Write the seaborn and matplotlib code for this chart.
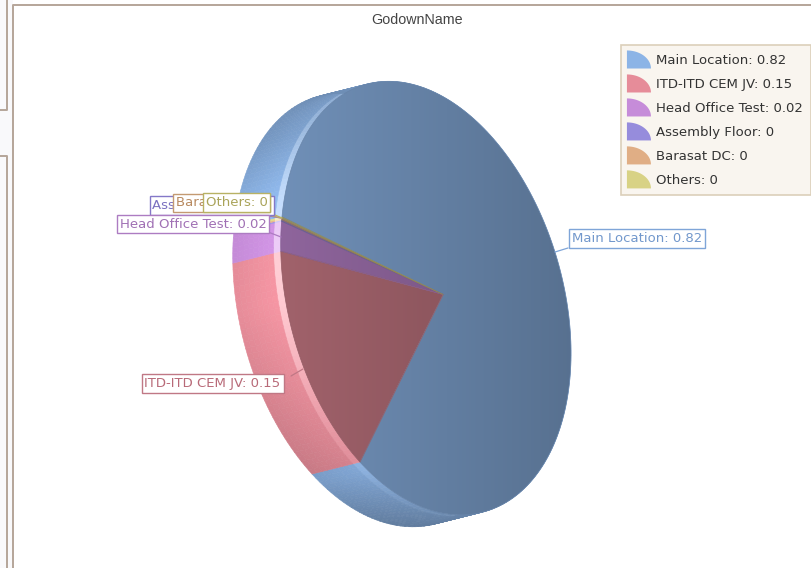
import numpy as np
import seaborn as sns
from matplotlib import pyplot as plt
from matplotlib.collections import PolyCollection
from matplotlib.legend_handler import HandlerPatch
from matplotlib.lines import Line2D
from matplotlib.patches import Patch, Polygon, Rectangle

# data (the three "0" slices are thin slivers)
categories = ["Main Location", "ITD-ITD CEM JV", "Head Office Test",
              "Assembly Floor", "Barasat DC", "Others"]
values = [0.82, 0.156, 0.021, 0.001, 0.001, 0.001]
value_labels = ["0.82", "0.15", "0.02", "0", "0", "0"]
title = "GodownName"
colors = sns.color_palette(["#8cb4e6", "#e68c99", "#c68cd9",
                            "#968cdc", "#e0ae85", "#d8d285"])
text_colors = ["#7298cc", "#b86a78", "#a070b4", "#7a70c0", "#b88a60", "#aaa45a"]
line_colors = ["#7fa5d8", "#c07885", "#ad7cc2", "#8478c8", "#c49a72", "#b8b264"]
face_dark = [0.80, 0.70, 0.72, 0.72, 0.72, 0.72]

sns.set_theme(style="white")
plt.rcParams["font.family"] = ["DejaVu Sans"]

fig = plt.figure(figsize=(8.11, 5.68), dpi=100, facecolor="white")
ax = fig.add_axes([0, 0, 1, 1])

# the pie gives the slice angles, then it is redrawn tilted
start = 170.0
wedges, _ = ax.pie(values, startangle=start, counterclock=False, radius=1)
thetas = [(w.theta1, w.theta2) for w in wedges]
for w in wedges:
    w.remove()
ax.set_aspect("auto")
ax.set_axis_off()


def circle(deg):
    return np.cos(np.radians(deg)), np.sin(np.radians(deg))


# perspective of the disc: two diameters of the circle and where they land
main_end = start - 360 * values[0]
src = [circle(start), circle(start + 180), circle(main_end), circle(main_end + 180)]
dst = [(282, 217), (571, 356), (360, 462), (510, 160)]
A, b = [], []
for (u, v), (x, y) in zip(src, dst):
    A.append([u, v, 1, 0, 0, 0, -u * x, -v * x])
    A.append([0, 0, 0, u, v, 1, -u * y, -v * y])
    b += [x, y]
H = np.append(np.linalg.solve(np.array(A), np.array(b)), 1).reshape(3, 3)
bulge_dir = main_end + 180 + (start - main_end - 180) / 2


def rim(deg):
    # the outline in the picture is a bit egg shaped, not a true ellipse
    deg = np.asarray(deg, dtype=float)
    k = 0.0215 + 0.0055 * np.cos(np.radians(deg - bulge_dir))
    r = 1 + k * (np.cos(2 * np.radians(deg - bulge_dir)) + 0.43)
    pts = H @ np.vstack([r * np.cos(np.radians(deg)), r * np.sin(np.radians(deg)), np.ones(deg.size)])
    return (pts[:2] / pts[2]).T


center = H[:2, 2] / H[2, 2]
depth = np.array([-48.0, 12.0])
bevel = 0.15
bands = np.r_[0, bevel, np.linspace(bevel, 1, 9)[1:]]


def wall_shade(y):
    return np.interp(y, [80, 130, 200, 300, 470, 525], [0.82, 0.88, 1.03, 1.05, 0.90, 0.68])


# side wall and the light bevel next to the face
polys, cols = [], []
for (t1, t2), col in zip(thetas, colors):
    col = np.array(col)
    steps = np.linspace(t1, t2, max(2, int(abs(t2 - t1) / 1.5) + 2))
    edge = rim(steps)
    for d0, d1 in zip(bands[:-1], bands[1:]):
        for i in range(len(steps) - 1):
            p = [edge[i] + d0 * depth, edge[i + 1] + d0 * depth,
                 edge[i + 1] + d1 * depth, edge[i] + d1 * depth]
            ym = (edge[i][1] + edge[i + 1][1]) / 2
            if d0 < bevel:
                glow = 0.5 * np.exp(-((ym - 260) / 140) ** 2)
                c = np.clip(col * wall_shade(ym) * 1.06 * (1 - glow) + glow, 0, 1)
            else:
                c = np.clip(col * wall_shade(ym) * (1.03 - 0.08 * d0), 0, 1)
            polys.append(p)
            cols.append(c)
ax.add_collection(PolyCollection(polys, facecolors=cols, edgecolors=cols, linewidths=0.4, zorder=2))

# front faces with the left-to-right darkening
shade = np.linspace(1.0, 0.78, 120)
for (t1, t2), col, dark in zip(thetas, colors, face_dark):
    grad = (np.array(col) * dark)[None, None, :] * shade[None, :, None]
    steps = np.linspace(t1, t2, max(2, int(abs(t2 - t1)) + 2))
    pts = np.vstack([center, rim(steps)])
    im = ax.imshow(grad, extent=[280, 575, 530, 70], aspect="auto", zorder=3, interpolation="bilinear")
    im.set_clip_path(Polygon(pts, closed=True, transform=ax.transData))
    ax.add_patch(Polygon(pts, closed=True, fc="none", ec=np.array(col) * dark * 0.92, lw=0.5, zorder=3.2))
ax.set_xlim(0, 811)
ax.set_ylim(568, 0)

# window frames around the chart
frame = "#b5a599"
ax.add_patch(Rectangle((0, 0), 13, 568, fc="#f9f9fb", ec="none", zorder=0))
ax.add_line(Line2D([13, 13, 811], [568, 4.5, 4.5], color=frame, lw=1.4, zorder=1))
ax.add_line(Line2D([6.5, 6.5, 0], [0, 109.5, 109.5], color=frame, lw=1.4, zorder=1))
ax.add_line(Line2D([0, 6.5, 6.5], [155.5, 155.5, 568], color=frame, lw=1.4, zorder=1))

ax.text(417, 20, title, ha="center", va="center", fontsize=10.3, color="#444444",
        family="Liberation Sans")

# slice labels: left edge and middle of each box, with its short leader
label_x = [571.5, 144.5, 119.5, 152.5, 175.5, 205.5]
label_y = [238.5, 383.5, 224, 205.5, 203, 202.5]
label_z = [5, 5, 5.4, 5.1, 5.2, 5.3]
leaders = [((568, 248), (555, 252)), ((291, 376), (303, 369)), ((268, 232), (281, 237)),
           ((250, 213), (281, 218)), ((255, 212), (281, 218)), ((268, 212), (282, 218))]
for i, name in enumerate(categories):
    (x0, y0), (x1, y1) = leaders[i]
    ax.add_line(Line2D([x0, x1], [y0, y1], color=line_colors[i], lw=0.9, zorder=4))
    ax.text(label_x[i], label_y[i], f"{name}: {value_labels[i]}", ha="left", va="center",
            fontsize=9.5, color=text_colors[i], zorder=label_z[i],
            bbox=dict(boxstyle="square,pad=0.22", fc="white", ec=line_colors[i], lw=1.0))


# legend with quarter-pie keys
class QuarterKey(HandlerPatch):
    def create_artists(self, legend, orig_handle, xdescent, ydescent, width, height, fontsize, trans):
        a = np.radians(np.linspace(0, 90, 24))
        pts = np.vstack([[0, 0], np.c_[width * np.cos(a), 13 * np.sin(a)]])
        pts = pts + [-xdescent - 1.9, -ydescent + height / 2 - 6.5]
        return [Polygon(pts, closed=True, fc=orig_handle.get_facecolor(), ec="none", transform=trans)]


handles = [Patch(color=c) for c in colors]
labels = [f"{n}: {v}" for n, v in zip(categories, value_labels)]
leg = ax.legend(handles, labels, handler_map={Patch: QuarterKey()},
                loc="upper left", bbox_to_anchor=(621 / 811, 1 - 45 / 568), borderaxespad=0,
                fontsize=9.5, frameon=True, fancybox=False, framealpha=1,
                facecolor="#f9f5ef", edgecolor="#dccfba", labelcolor="#333333",
                handlelength=1.82, handleheight=1.0, handletextpad=0.18,
                labelspacing=0.80, borderpad=0.65)
leg.set_zorder(6)
leg.get_frame().set_linewidth(1.2)

fig.savefig("out.png", dpi=100)
